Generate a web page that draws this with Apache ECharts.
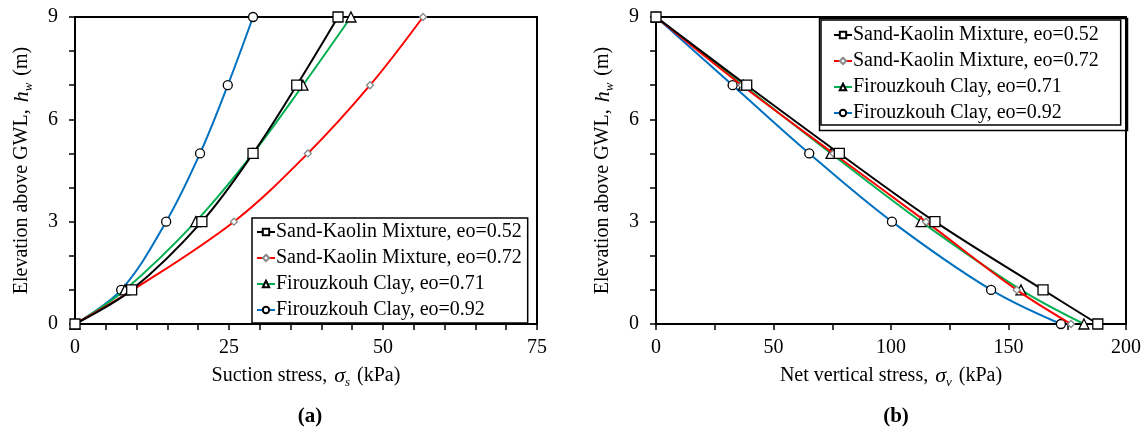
<!DOCTYPE html>
<html>
<head>
<meta charset="utf-8">
<script src="https://cdn.jsdelivr.net/npm/echarts@6/dist/echarts.min.js"></script>
<style>html,body{margin:0;padding:0;background:#fff}#c{width:1146px;height:446px}</style>
</head>
<body>
<div id="c"></div>
<script>
const elevation = [0, 1, 3, 5, 7, 9];
const seriesNames = ['Sand-Kaolin Mixture, eo=0.52', 'Sand-Kaolin Mixture, eo=0.72', 'Firouzkouh Clay, eo=0.71', 'Firouzkouh Clay, eo=0.92'];
// (a) suction stress (kPa)
const suctionSK052 = [0, 9.2, 20.6, 28.9, 36.0, 42.7];
const suctionSK072 = [0, 9.4, 25.8, 37.8, 47.9, 56.5];
const suctionFC071 = [0, 8.1, 19.6, 28.9, 37.0, 44.8];
const suctionFC092 = [0, 7.5, 14.8, 20.3, 24.8, 28.9];
// (b) net vertical stress (kPa)
const netSK052 = [188.0, 164.7, 118.7, 78.0, 38.6, 0];
const netSK072 = [176.6, 153.5, 114.9, 75.5, 36.5, 0];
const netFC071 = [182.1, 155.3, 112.8, 74.5, 37.2, 0];
const netFC092 = [172.3, 142.6, 100.4, 65.2, 32.6, 0];
const xTicksA = [0, 25, 50, 75];
const xTicksB = [0, 50, 100, 150, 200];
const yTicks = [0, 3, 6, 9];

const FONT = '"Liberation Serif", "Times New Roman", serif';
const colors = ['#000000', '#ff0000', '#00b050', '#0070c0'];
const symbols = ['rect', 'diamond', 'triangle', 'circle'];
const symSizes = [10, 7, 10, 9];
const symBorder = ['#000', '#888', '#000', '#000'];

function pairs(xs) { return xs.map((x, i) => [x, elevation[i]]); }

const chart = echarts.init(document.getElementById('c'), null, {renderer: 'canvas'});

function mkSeries(dataArr, gi) {
  return dataArr.map((d, k) => ({
    name: seriesNames[k], type: 'line', xAxisIndex: gi, yAxisIndex: gi,
    data: pairs(d), smooth: 0.35, symbol: symbols[k], symbolSize: symSizes[k],
    showAllSymbol: true,
    lineStyle: {color: colors[k], width: 2},
    itemStyle: {color: '#fff', borderColor: symBorder[k], borderWidth: 1.3},
    z: 10 - k, animation: false
  }));
}

const axisLabelStyle = {fontFamily: FONT, fontSize: 20, color: '#000'};
const richName = {
  n: {fontFamily: FONT, fontSize: 20, color: '#000', lineHeight: 26, verticalAlign: 'middle'},
  i: {fontFamily: FONT, fontSize: 22, fontStyle: 'italic', color: '#000', lineHeight: 26, verticalAlign: 'middle', padding: [0, 0, 0, 2]},
  s: {fontFamily: FONT, fontSize: 13, fontStyle: 'italic', color: '#000', lineHeight: 26, verticalAlign: 'bottom', padding: [0, 2, 0, 0]}
};

function xAxisCfg(gi, max, interval, split, name) {
  return {
    type: 'value', gridIndex: gi, min: 0, max: max, interval: interval,
    axisLine: {onZero: false, lineStyle: {color: '#000', width: 2}},
    axisTick: {show: true, length: 6, lineStyle: {color: '#000', width: 1.5}},
    minorTick: {show: true, splitNumber: split, length: 6, lineStyle: {color: '#000', width: 1.5}},
    splitLine: {show: false},
    axisLabel: Object.assign({margin: 14}, axisLabelStyle),
    name: name, nameLocation: 'middle', nameGap: 39,
    nameTextStyle: {rich: richName}
  };
}
function yAxisCfg(gi) {
  return {
    type: 'value', gridIndex: gi, min: 0, max: 9, interval: 3,
    axisLine: {onZero: false, lineStyle: {color: '#000', width: 2}},
    axisTick: {show: true, length: 6, lineStyle: {color: '#000', width: 1.5}},
    minorTick: {show: true, splitNumber: 3, length: 6, lineStyle: {color: '#000', width: 1.5}},
    splitLine: {show: false},
    axisLabel: Object.assign({margin: 17}, axisLabelStyle),
    name: '{n|Elevation above GWL, }{i|h}{s|w}{n| (m)}', nameLocation: 'middle', nameGap: 40,
    nameTextStyle: {rich: richName}
  };
}

const legendBase = {
  orient: 'vertical', itemWidth: 18, itemHeight: 8, itemGap: 6,
  backgroundColor: '#fff', borderColor: '#000', borderWidth: 1.5,
  textStyle: {fontFamily: FONT, fontSize: 20, color: '#000', padding: [0, 0, 0, -4]},
  data: seriesNames
};

chart.setOption({
  animation: false,
  title: [
    {text: '(a)', left: 305, top: 401, textAlign: 'center', textStyle: {fontFamily: FONT, fontSize: 21, fontWeight: 'bold', color: '#000'}},
    {text: '(b)', left: 891, top: 401, textAlign: 'center', textStyle: {fontFamily: FONT, fontSize: 21, fontWeight: 'bold', color: '#000'}}
  ],
  grid: [
    {left: 75, top: 17, width: 462, height: 307, show: true, borderColor: '#000', borderWidth: 2, backgroundColor: 'transparent'},
    {left: 656, top: 17, width: 470, height: 307, show: true, borderColor: '#000', borderWidth: 2, backgroundColor: 'transparent'}
  ],
  xAxis: [
    xAxisCfg(0, 75, 25, 5, '{n|Suction stress, }{i|σ}{s|s}{n| (kPa)}'),
    xAxisCfg(1, 200, 50, 2, '{n|Net vertical stress, }{i|σ}{s|v}{n| (kPa)}')
  ],
  yAxis: [yAxisCfg(0), yAxisCfg(1)],
  legend: [
    Object.assign({}, legendBase, {left: 252, top: 218, padding: [4, 6, 3, 4], z: 20}),
    Object.assign({}, legendBase, {left: 821, top: 20, padding: [5, 22, 2, 12], z: 20})
  ],
  graphic: [
    {type: 'rect', left: 817, top: 16, shape: {width: 308, height: 112}, style: {fill: 'none', stroke: '#000', lineWidth: 1.5}, z: 100}
  ],
  series: mkSeries([suctionSK052, suctionSK072, suctionFC071, suctionFC092], 0)
    .concat(mkSeries([netSK052, netSK072, netFC071, netFC092], 1))
});
</script>
</body>
</html>
